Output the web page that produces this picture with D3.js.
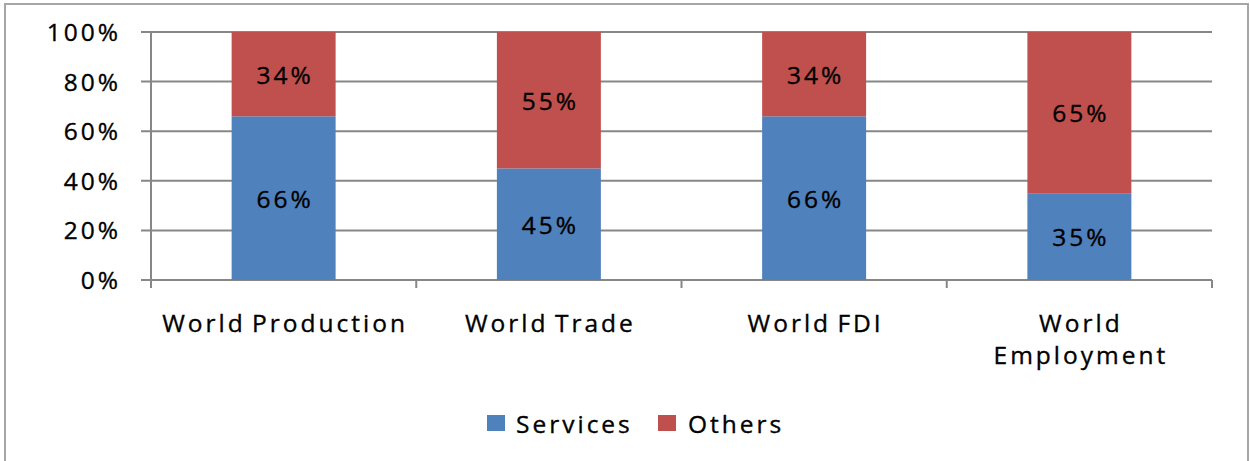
<!DOCTYPE html>
<html>
<head>
<meta charset="utf-8">
<script src="https://cdn.jsdelivr.net/npm/d3@7"></script>
<style>
  html, body { margin: 0; padding: 0; background: #fff; }
  svg { display: block; }
  text { font-family: "Open Sans", "DejaVu Sans", sans-serif; fill: #000; stroke: #000; stroke-width: 0.35px; word-spacing: -3px; }
</style>
</head>
<body>
<svg id="chart" width="1250" height="461"></svg>
<script>
// ---- data ----
const categories = ["World Production", "World Trade", "World FDI", "World Employment"];
const services = [66, 45, 66, 35];
const others = [34, 55, 34, 65];
const seriesNames = ["Services", "Others"];
const seriesColors = ["#4F81BD", "#C0504D"];
const yTicks = [0, 20, 40, 60, 80, 100];

// ---- layout ----
const svg = d3.select("#chart");
const plot = { left: 151, right: 1212, top: 32, bottom: 280 };
const gridColor = "#878787";
const fontSize = 24.5, letterSp = 3;

// outer frame
svg.append("rect")
  .attr("x", 5).attr("y", 4)
  .attr("width", 1243).attr("height", 480)
  .attr("fill", "#fff").attr("stroke", "#a6a6a6").attr("stroke-width", 2);

const x = d3.scaleBand().domain(categories).range([plot.left, plot.right]).padding(0);
const y = d3.scaleLinear().domain([0, 100]).range([plot.bottom, plot.top]);
const barW = x.bandwidth() * 0.392;

// gridlines + y ticks
svg.append("g").selectAll("line").data(yTicks).join("line")
  .attr("x1", plot.left - 10).attr("x2", plot.right)
  .attr("y1", d => y(d)).attr("y2", d => y(d))
  .attr("stroke", gridColor).attr("stroke-width", 2);

// y tick labels
svg.append("g").selectAll("text").data(yTicks).join("text")
  .attr("x", 121).attr("y", d => y(d) + 9)
  .attr("text-anchor", "end")
  .attr("font-size", fontSize)
  .attr("letter-spacing", letterSp)
  .text(d => d + "%");

// stacked bars
const stackData = categories.map((c, i) => ({ cat: c, Services: services[i], Others: others[i] }));
const stack = d3.stack().keys(seriesNames)(stackData);

const layers = svg.append("g").selectAll("g").data(stack).join("g")
  .attr("fill", (d, i) => seriesColors[i]);

layers.selectAll("rect").data(d => d).join("rect")
  .attr("x", d => x(d.data.cat) + (x.bandwidth() - barW) / 2)
  .attr("width", barW)
  .attr("y", d => y(d[1]))
  .attr("height", d => y(d[0]) - y(d[1]));

// data labels
layers.selectAll("text").data((d) => d.map(v => ({ v, key: d.key }))).join("text")
  .attr("x", d => x(d.v.data.cat) + x.bandwidth() / 2 + letterSp / 2)
  .attr("y", d => (y(d.v[0]) + y(d.v[1])) / 2 + 9.5)
  .attr("text-anchor", "middle")
  .attr("font-size", fontSize)
  .attr("letter-spacing", letterSp)
  .style("fill", "#000")
  .text(d => (d.v[1] - d.v[0]) + "%");

// y axis line
svg.append("line")
  .attr("x1", plot.left).attr("x2", plot.left)
  .attr("y1", plot.top).attr("y2", plot.bottom + 8)
  .attr("stroke", gridColor).attr("stroke-width", 2);

// x boundary ticks
const bounds = categories.map(c => x(c)).concat([plot.right]);
svg.append("g").selectAll("line").data(bounds).join("line")
  .attr("x1", d => d).attr("x2", d => d)
  .attr("y1", plot.bottom).attr("y2", plot.bottom + 8)
  .attr("stroke", gridColor).attr("stroke-width", 2);

// category labels
const catG = svg.append("g").selectAll("text").data(categories).join("text")
  .attr("text-anchor", "middle")
  .attr("font-size", fontSize)
  .attr("letter-spacing", letterSp)
  .attr("y", 332);
catG.each(function(c) {
  const t = d3.select(this);
  const cx = x(c) + x.bandwidth() / 2 + letterSp / 2;
  const words = c === "World Employment" ? ["World", "Employment"] : [c];
  words.forEach((w, i) => {
    t.append("tspan").attr("x", cx).attr("dy", i === 0 ? 0 : 32).text(w);
  });
});

// legend
const legendItems = [
  { name: seriesNames[0], color: seriesColors[0], sx: 487, tx: 516 },
  { name: seriesNames[1], color: seriesColors[1], sx: 658, tx: 688 }
];
const lg = svg.append("g");
lg.selectAll("rect").data(legendItems).join("rect")
  .attr("x", d => d.sx).attr("y", 415).attr("width", 18).attr("height", 16)
  .attr("fill", d => d.color);
lg.selectAll("text").data(legendItems).join("text")
  .attr("x", d => d.tx).attr("y", 433)
  .attr("font-size", fontSize)
  .attr("letter-spacing", letterSp)
  .text(d => d.name);
</script>
</body>
</html>
